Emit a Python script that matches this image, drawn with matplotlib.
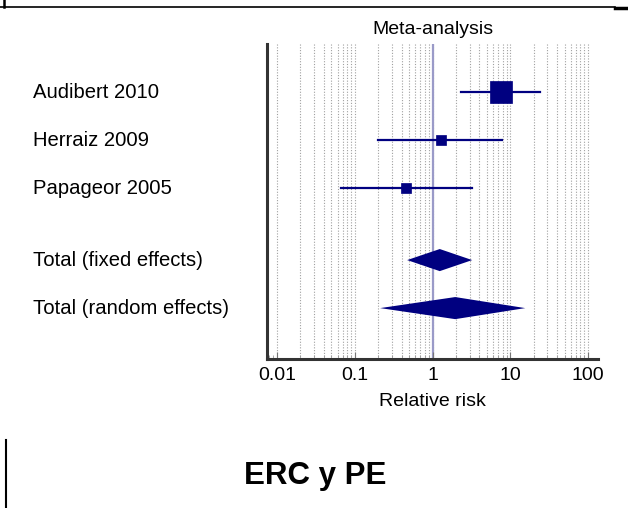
import numpy as np
import matplotlib.pyplot as plt
import matplotlib.transforms as mtransforms
from matplotlib.lines import Line2D
from matplotlib.ticker import LogLocator, NullFormatter, FixedLocator

plt.rcParams['font.family'] = ['Liberation Sans', 'DejaVu Sans']

studies = ['Audibert 2010', 'Herraiz 2009', 'Papageor 2005']
rr = [7.65, 1.29, 0.46]
ci_low = [2.36, 0.198, 0.0656]
ci_high = [24.3, 7.88, 3.24]
weights = [72.3, 16.5, 11.2]

totals = ['Total (fixed effects)', 'Total (random effects)']
tot_rr = [1.24, 1.96]
tot_low = [0.472, 0.212]
tot_high = [3.24, 15.6]

ticks = [0.01, 0.1, 1, 10, 100]
tick_labels = ['0.01', '0.1', '1', '10', '100']

navy = '#000080'

fig = plt.figure(figsize=(6.28, 5.08), dpi=100)
ax = fig.add_axes([267 / 628, 1 - 359 / 508, 331 / 628, 315 / 508])

ax.set_xscale('log')
ax.set_xlim(10 ** -2.129, 10 ** 2.129)
ax.set_ylim(6.56, 0)

# vertical dotted grid on every decade step
grid_x = [m * 10.0 ** e for e in range(-2, 2) for m in range(1, 10)] + [100]
for gx in grid_x:
    ax.axvline(gx, color='#a0a0a0', lw=0.8, ls=(0, (1, 1.5)), zorder=0)

ax.axvline(1, color='#9a9ac8', lw=1.6, zorder=1)

y_st = [1, 2, 3]
for i in range(len(studies)):
    ax.plot([ci_low[i], ci_high[i]], [y_st[i], y_st[i]], color=navy, lw=1.6, zorder=2)
    ms = 2.7 * np.sqrt(weights[i]) * 72 / 100
    ax.plot(rr[i], y_st[i], marker='s', ms=ms, color=navy, mec=navy, mew=0.5, zorder=3)

y_tot = [4.5, 5.5]
h = 0.23
for i in range(len(totals)):
    ax.fill([tot_low[i], tot_rr[i], tot_high[i], tot_rr[i]],
            [y_tot[i], y_tot[i] - h, y_tot[i], y_tot[i] + h],
            color=navy, lw=0, zorder=3)

# row labels: x in inches from the figure edge, y in data rows
lab_tr = mtransforms.blended_transform_factory(fig.dpi_scale_trans, ax.transData)
for lab, yy in zip(studies + totals, y_st + y_tot):
    ax.text(0.33, yy, lab, transform=lab_tr, fontsize=14.6, va='center', ha='left', clip_on=False)

ax.spines['top'].set_visible(False)
ax.spines['right'].set_visible(False)
for s in ['left', 'bottom']:
    ax.spines[s].set_linewidth(2.2)
    ax.spines[s].set_color('#333333')

ax.set_yticks([])
ax.xaxis.set_major_locator(FixedLocator(ticks))
ax.set_xticklabels(tick_labels, fontsize=14)
ax.xaxis.set_minor_locator(LogLocator(base=10, subs=np.arange(2, 10)))
ax.xaxis.set_minor_formatter(NullFormatter())
ax.tick_params(axis='x', which='major', direction='in', length=5, width=0.8, color='#777777', pad=6)
ax.tick_params(axis='x', which='minor', direction='in', length=3, width=0.6, color='#999999')

ax.set_xlabel('Relative risk', fontsize=14, labelpad=6)
ax.set_title('Meta-analysis', fontsize=14, pad=7)

fig.text(315 / 628, 1 - 476 / 508, 'ERC y PE', fontsize=22.5, fontweight='bold', ha='center', va='center')

# frame pieces around the figure
fig.add_artist(Line2D([0, 615 / 628], [1 - 7 / 508] * 2, color='black', lw=1.2))
fig.add_artist(Line2D([615 / 628, 1], [1 - 7.5 / 508] * 2, color='black', lw=2.5))
fig.add_artist(Line2D([4 / 628] * 2, [1, 1 - 7 / 508], color='black', lw=1.8))
fig.add_artist(Line2D([6 / 628] * 2, [1 - 440 / 508, 0], color='black', lw=1.5))

fig.savefig('out.png', dpi=100)
